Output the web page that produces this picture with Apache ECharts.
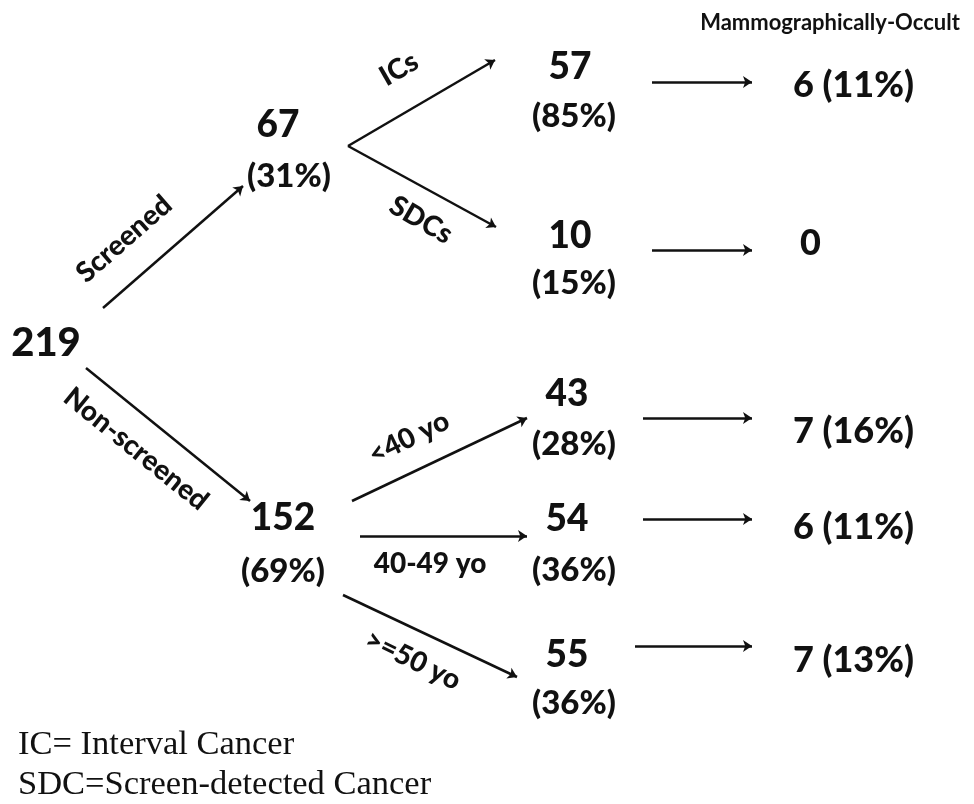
<!DOCTYPE html>
<html>
<head>
<meta charset="utf-8">
<script src="https://cdn.jsdelivr.net/npm/echarts@6/dist/echarts.min.js"></script>
<style>
html,body{margin:0;padding:0;background:#fff;}
#chart{width:974px;height:804px;}
</style>
</head>
<body>
<div id="chart"></div>
<script>
// ---- data ----
const nodeCounts = [219, 67, 152, 57, 10, 43, 54, 55];
const nodePercents = [null, 31, 69, 85, 15, 28, 36, 36];
const branchLabels = ['Screened', 'Non-screened', 'ICs', 'SDCs', '<40 yo', '40-49 yo', '>=50 yo'];
const occultCounts = [6, 0, 7, 6, 7];
const occultPercents = [11, null, 16, 11, 13];
const occultTitle = 'Mammographically-Occult';
const footnotes = ['IC= Interval Cancer', 'SDC=Screen-detected Cancer'];

// ---- layout (diagram coordinates) ----
const nodePos = [[46,343],[278,125],[283,518],[570,67],[570,236],[567,394],[567,519],[567,655]];
const pctPos = [null,[289,176],[283,571],[574,116],[574,283],[574,444],[574,570],[574,703]];
const branchPos = [[124,239],[136,449],[399,69],[421,220],[409,438],[430,564],[413,660]];
const branchRot = [41,-39,30,-30,26,0,-26];
const arrowPos = [
  [[103,308],[243,186]],
  [[86,368],[250,501]],
  [[348,146],[495,60]],
  [[348,146],[496,227]],
  [[652,82],[752,82]],
  [[652,250],[752,250]],
  [[352,501],[527,418]],
  [[360,536],[527,536]],
  [[343,595],[517,677]],
  [[643,418],[752,418]],
  [[643,519],[752,519]],
  [[635,646],[752,646]]
];
const occultPos = [[793,85],[800,243],[793,431],[793,527],[793,660]];
const titlePos = [830,23];
const footPos = [[18,745],[18,785]];

const FONT = 'Lato';
const INK = '#111111';

function textSeries(name, data, labelOpt) {
  return {
    type: 'scatter', name: name, symbolSize: 0, silent: true,
    itemStyle: { opacity: 1 },
    data: data,
    label: Object.assign({
      show: true, position: [0,0], align: 'center', verticalAlign: 'middle',
      color: INK, opacity: 1, fontFamily: FONT, fontWeight: 900,
      formatter: p => p.data[2]
    }, labelOpt)
  };
}

const countData = nodeCounts.map((c,i) => [nodePos[i][0], nodePos[i][1], String(c)]);
const pctData = [];
nodePercents.forEach((p,i) => { if (p !== null) pctData.push([pctPos[i][0], pctPos[i][1], '(' + p + '%)']); });
const occultData = occultCounts.map((c,i) => [occultPos[i][0], occultPos[i][1],
  occultPercents[i] === null ? String(c) : c + ' (' + occultPercents[i] + '%)']);

const branchSeries = branchLabels.map((t,i) => textSeries('branch'+i,
  [[branchPos[i][0], branchPos[i][1], t]], { fontSize: 28, rotate: branchRot[i] }));

const option = {
  animation: false,
  backgroundColor: '#fff',
  grid: { left: 0, right: 0, top: 0, bottom: 0 },
  xAxis: { type: 'value', min: 0, max: 974, show: false },
  yAxis: { type: 'value', min: 0, max: 804, inverse: true, show: false },
  series: [
    {
      type: 'lines', coordinateSystem: 'cartesian2d', silent: true,
      symbol: ['none', 'arrow'], symbolSize: 9,
      lineStyle: { color: INK, width: 2.5, opacity: 1 },
      data: arrowPos.map(c => ({ coords: c }))
    },
    textSeries('counts', countData.slice(1), { fontSize: 37 }),
    textSeries('root', countData.slice(0,1), { fontSize: 40 }),
    textSeries('pcts', pctData, { fontSize: 33 }),
    textSeries('occult', occultData, { fontSize: 36, align: 'left' }),
    textSeries('title', [[titlePos[0], titlePos[1], occultTitle]], { fontSize: 22, fontWeight: 'bold' }),
    textSeries('foot', footnotes.map((t,i) => [footPos[i][0], footPos[i][1], t]),
      { fontSize: 34.5, align: 'left', fontWeight: 'normal', fontFamily: 'Liberation Serif', color: '#111' })
  ].concat(branchSeries)
};

const chart = echarts.init(document.getElementById('chart'), null, { renderer: 'canvas' });
chart.setOption(option);
</script>
</body>
</html>
